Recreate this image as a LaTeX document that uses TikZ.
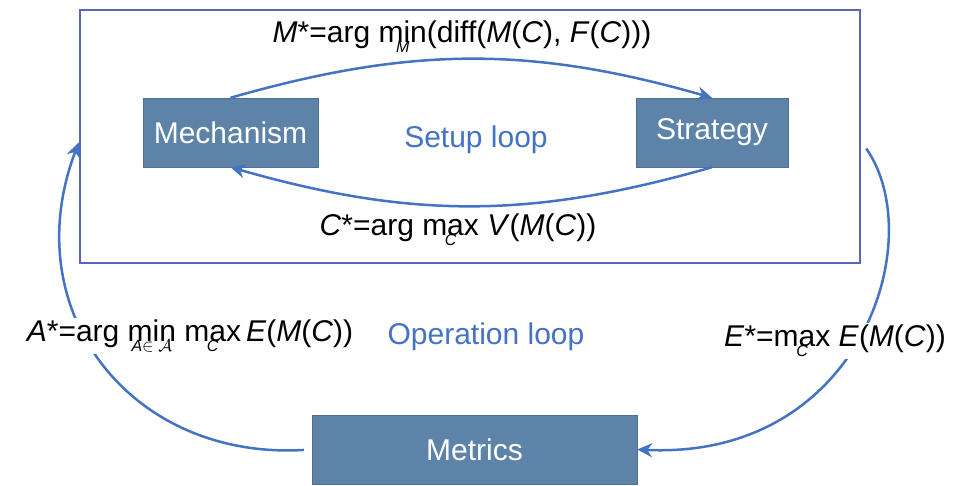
\documentclass[tikz,border=0pt]{standalone}
\usepackage{fontspec}
\setmainfont{Liberation Sans}
\usepackage{amsmath}
\usetikzlibrary{arrows.meta,calc}

\definecolor{boxfill}{HTML}{5D83A8}
\definecolor{boxline}{HTML}{4D6F92}
\definecolor{loopblue}{HTML}{4472C4}
\definecolor{frameblue}{HTML}{5867B4}

% operator name with its index set underneath
\newcommand{\opunder}[2]{\vtop{\offinterlineskip\halign{\hfil##\hfil\cr #1\cr\noalign{\kern-2pt}{\fontsize{16}{16}\selectfont\itshape #2}\cr}}}

\begin{document}
\begin{tikzpicture}[x=1pt,y=-1pt,
    every node/.style={font=\fontsize{30}{36}\selectfont},
    block/.style={draw=boxline, fill=boxfill, text=white, minimum height=69pt, inner sep=0pt},
    flow/.style={draw=loopblue, line width=2.5pt, -{Stealth[length=15pt,width=14pt]}},
    formula/.style={fill=white, inner sep=2pt}]
        \useasboundingbox (0,0) rectangle (954,486);

        % Frame around the setup loop
        \node[draw=frameblue, line width=2.5pt, minimum width=780pt, minimum height=253pt, inner sep=0pt] (frame) at (470,136.5) {};

        % Blocks
        \node[block, minimum width=175pt] (mech) at (230.5,132.5) {Mechanism};
        \node[block, minimum width=152pt] (strat) at (712,132.5) {Strategy};
        \node[block, minimum width=325pt] (metrics) at (474.5,449.5) {Metrics};

        % Loop names
        \node[text=loopblue] (setuplbl) at (476,140) {Setup loop};
        \node[text=loopblue] (oplbl) at (486,337) {Operation loop};

        % Inner loop between the two blocks
        \draw[flow] (mech.north) to[bend left=16] (strat.north);
        \draw[flow] (strat.south) to[bend left=16] (mech.south);

        % Outer loop through the metrics
        \draw[flow, shorten <=8pt] (metrics.west) .. controls (130,460) and (15,310) .. ($(frame.west)+(0,6)$);
        \draw[flow] ($(frame.east)+(5,12)$) .. controls (930,240) and (860,460) .. (metrics.east);

        % Formulas on the arcs
        \node[anchor=base] (mform) at (462,43) {\textit{M}*=arg \opunder{min}{M}(diff(\textit{M}(\textit{C}), \textit{F}(\textit{C})))};
        \node[anchor=base] (cform) at (458,236) {\textit{C}*=arg \opunder{max}{C} \textit{V}(\textit{M}(\textit{C}))};
        \node[formula, anchor=base] (aform) at (190,342) {\textit{A}*=arg \opunder{min}{A$\in\mathcal{A}$} \opunder{max}{C}\,\textit{E}(\textit{M}(\textit{C}))};
        \node[formula, anchor=base] (eform) at (835,347) {\textit{E}*=\opunder{max}{C} \textit{E}(\textit{M}(\textit{C}))};
\end{tikzpicture}
\end{document}
